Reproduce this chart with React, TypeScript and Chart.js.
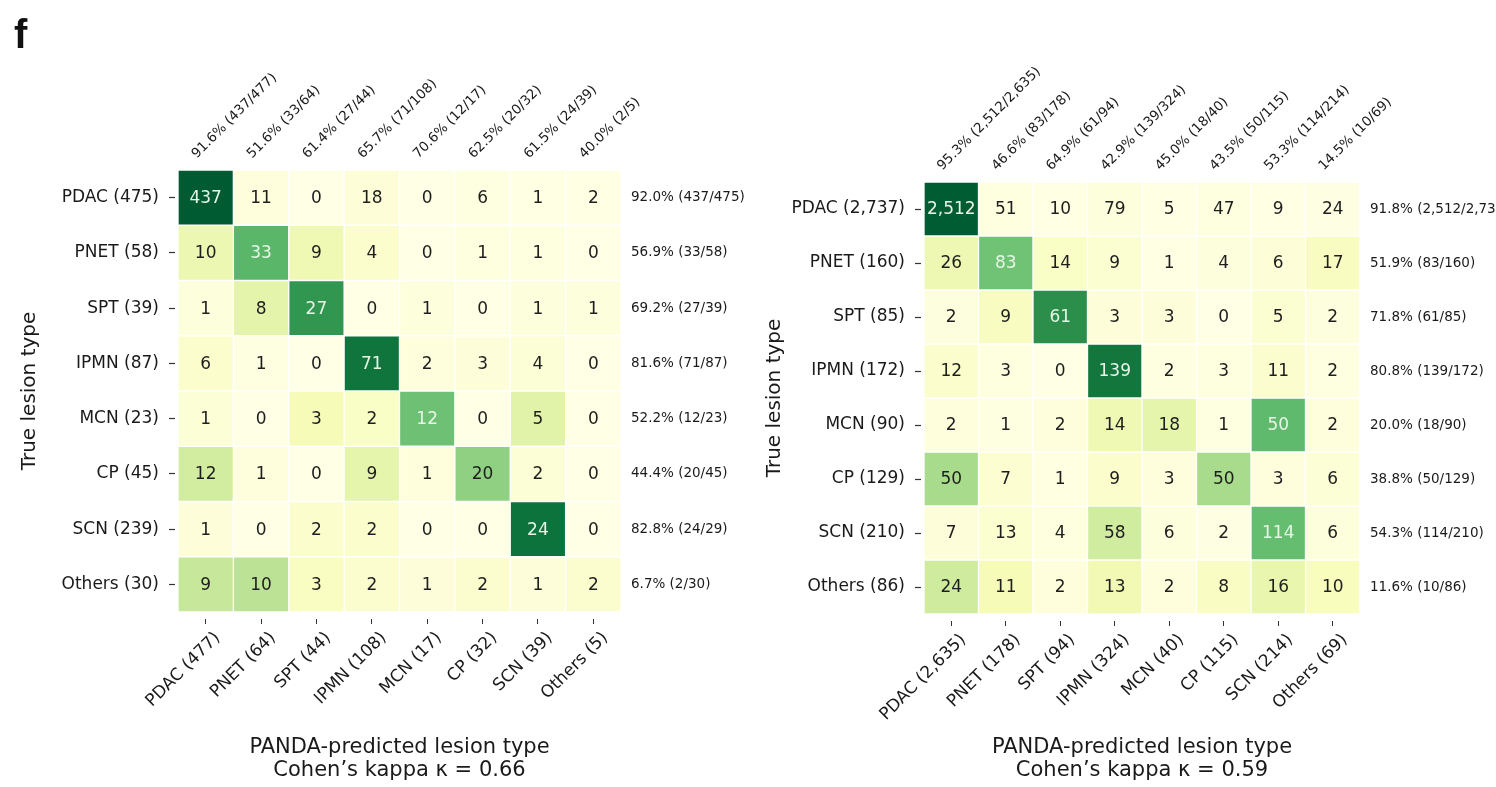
import { useEffect, useRef } from "react";
import { Chart, registerables } from "chart.js";

Chart.register(...registerables);

const FONT = "'DejaVu Sans', Verdana, sans-serif";

// ---- Panel A (left) ----
const leftTrueTypes = ["PDAC (475)", "PNET (58)", "SPT (39)", "IPMN (87)", "MCN (23)", "CP (45)", "SCN (239)", "Others (30)"];
const leftPredTypes = ["PDAC (477)", "PNET (64)", "SPT (44)", "IPMN (108)", "MCN (17)", "CP (32)", "SCN (39)", "Others (5)"];
const leftCounts = [
  [437, 11, 0, 18, 0, 6, 1, 2],
  [10, 33, 9, 4, 0, 1, 1, 0],
  [1, 8, 27, 0, 1, 0, 1, 1],
  [6, 1, 0, 71, 2, 3, 4, 0],
  [1, 0, 3, 2, 12, 0, 5, 0],
  [12, 1, 0, 9, 1, 20, 2, 0],
  [1, 0, 2, 2, 0, 0, 24, 0],
  [9, 10, 3, 2, 1, 2, 1, 2],
];
const leftRecall = ["92.0% (437/475)", "56.9% (33/58)", "69.2% (27/39)", "81.6% (71/87)", "52.2% (12/23)", "44.4% (20/45)", "82.8% (24/29)", "6.7% (2/30)"];
const leftPrecision = ["91.6% (437/477)", "51.6% (33/64)", "61.4% (27/44)", "65.7% (71/108)", "70.6% (12/17)", "62.5% (20/32)", "61.5% (24/39)", "40.0% (2/5)"];
const leftKappa = "0.66";

// ---- Panel B (right) ----
const rightTrueTypes = ["PDAC (2,737)", "PNET (160)", "SPT (85)", "IPMN (172)", "MCN (90)", "CP (129)", "SCN (210)", "Others (86)"];
const rightPredTypes = ["PDAC (2,635)", "PNET (178)", "SPT (94)", "IPMN (324)", "MCN (40)", "CP (115)", "SCN (214)", "Others (69)"];
const rightCounts = [
  [2512, 51, 10, 79, 5, 47, 9, 24],
  [26, 83, 14, 9, 1, 4, 6, 17],
  [2, 9, 61, 3, 3, 0, 5, 2],
  [12, 3, 0, 139, 2, 3, 11, 2],
  [2, 1, 2, 14, 18, 1, 50, 2],
  [50, 7, 1, 9, 3, 50, 3, 6],
  [7, 13, 4, 58, 6, 2, 114, 6],
  [24, 11, 2, 13, 2, 8, 16, 10],
];
const rightRecall = ["91.8% (2,512/2,737)", "51.9% (83/160)", "71.8% (61/85)", "80.8% (139/172)", "20.0% (18/90)", "38.8% (50/129)", "54.3% (114/210)", "11.6% (10/86)"];
const rightPrecision = ["95.3% (2,512/2,635)", "46.6% (83/178)", "64.9% (61/94)", "42.9% (139/324)", "45.0% (18/40)", "43.5% (50/115)", "53.3% (114/214)", "14.5% (10/69)"];
const rightKappa = "0.59";

// YlGn colour ramp used for row-normalised cell shading
const YLGN = ["#ffffe5", "#f7fcb9", "#d9f0a3", "#addd8e", "#78c679", "#41ab5d", "#238443", "#006837", "#004529"];

function hexToRgb(h: string) {
  const n = parseInt(h.slice(1), 16);
  return [(n >> 16) & 255, (n >> 8) & 255, n & 255];
}

function ylgn(t: number) {
  const c = Math.max(0, Math.min(1, t));
  const pos = c * (YLGN.length - 1);
  const i = Math.min(Math.floor(pos), YLGN.length - 2);
  const f = pos - i;
  const a = hexToRgb(YLGN[i]);
  const b = hexToRgb(YLGN[i + 1]);
  const m = a.map((v, k) => Math.round(v + (b[k] - v) * f));
  return `rgb(${m[0]}, ${m[1]}, ${m[2]})`;
}

type Frame = { left: number; right: number; top: number; bottom: number; titlePad: number };

type MatrixProps = {
  x: number;
  trueTypes: string[];
  predTypes: string[];
  counts: number[][];
  recall: string[];
  precision: string[];
  kappa: string;
  frame: Frame;
};

const W = 748;
const H = 787;

function ConfusionMatrix({ x, trueTypes, predTypes, counts, recall, precision, kappa, frame }: MatrixProps) {
  const ref = useRef<HTMLCanvasElement | null>(null);

  useEffect(() => {
    if (!ref.current) return;
    const n = trueTypes.length;
    const rowTotals = counts.map((r) => r.reduce((a, b) => a + b, 0));

    const datasets = counts.map((row, i) => ({
      label: trueTypes[i],
      data: row.map(() => [i, i + 1]),
      backgroundColor: row.map((v) => ylgn(v / rowTotals[i])),
      borderColor: "#ffffff",
      borderWidth: 1,
      borderSkipped: false,
      grouped: false,
      barPercentage: 1,
      categoryPercentage: 1,
    }));

    const cellText = {
      id: "cellText",
      afterDatasetsDraw(chart: any) {
        const ctx = chart.ctx;
        ctx.save();
        ctx.font = `17px ${FONT}`;
        ctx.textAlign = "center";
        ctx.textBaseline = "middle";
        counts.forEach((row, i) => {
          const meta = chart.getDatasetMeta(i);
          meta.data.forEach((bar: any, j: number) => {
            const p = bar.getProps(["x", "y", "base"], true);
            ctx.fillStyle = row[j] / rowTotals[i] > 0.5 ? "#e6f5e6" : "#1e1e1e";
            ctx.fillText(row[j].toLocaleString("en-US"), p.x, (p.y + p.base) / 2 + 1);
          });
        });
        ctx.restore();
      },
    };

    const rowTicks = (axis: any) => {
      axis.ticks = trueTypes.map((_, i) => ({ value: i + 0.5 }));
    };

    const chart = new Chart(ref.current, {
      type: "bar",
      data: { labels: predTypes, datasets: datasets as any },
      options: {
        responsive: false,
        animation: false,
        layout: { padding: 0 },
        plugins: { legend: { display: false }, tooltip: { enabled: false } },
        scales: {
          x: {
            type: "category",
            position: "bottom",
            offset: true,
            border: { display: false },
            grid: {
              display: true,
              drawOnChartArea: false,
              drawTicks: true,
              tickLength: 12,
              tickWidth: 1,
              tickColor: "#333333",
              tickBorderDash: [0, 7, 5, 100],
              offset: false,
            },
            ticks: {
              autoSkip: false,
              minRotation: 45,
              maxRotation: 45,
              labelOffset: 12,
              padding: 4,
              color: "#1a1a1a",
              font: { family: FONT, size: 17 },
            },
            title: {
              display: true,
              text: ["PANDA-predicted lesion type", `Cohen\u2019s kappa \u03ba = ${kappa}`],
              color: "#1a1a1a",
              font: { family: FONT, size: 21, lineHeight: 1.1 },
              padding: { top: 0, bottom: 5 },
            },
            afterFit: (s: any) => {
              s.height = frame.bottom;
            },
          },
          xTop: {
            type: "category",
            position: "top",
            labels: precision,
            offset: true,
            border: { display: false },
            grid: { display: false, drawTicks: false },
            ticks: {
              autoSkip: false,
              minRotation: 45,
              maxRotation: 45,
              padding: 8,
              color: "#1a1a1a",
              font: { family: FONT, size: 13.5 },
            },
            afterFit: (s: any) => {
              s.height = frame.top;
            },
          },
          y: {
            type: "linear",
            position: "left",
            min: 0,
            max: n,
            reverse: true,
            afterBuildTicks: rowTicks,
            border: { display: false },
            grid: {
              display: true,
              drawOnChartArea: false,
              drawTicks: true,
              tickLength: 9,
              tickWidth: 1.2,
              tickColor: "#333333",
              tickBorderDash: [6, 100],
            },
            ticks: {
              autoSkip: false,
              padding: 10,
              color: "#1a1a1a",
              font: { family: FONT, size: 17 },
              callback: (_v: any, i: number) => trueTypes[i],
            },
            title: {
              display: true,
              text: "True lesion type",
              color: "#1a1a1a",
              font: { family: FONT, size: 20, lineHeight: 1.2 },
              padding: { top: frame.titlePad, bottom: 0 },
            },
            afterFit: (s: any) => {
              s.width = frame.left;
            },
          },
          yRight: {
            type: "linear",
            position: "right",
            min: 0,
            max: n,
            reverse: true,
            afterBuildTicks: rowTicks,
            border: { display: false },
            grid: { display: false, drawTicks: false },
            ticks: {
              autoSkip: false,
              padding: 10,
              color: "#1a1a1a",
              font: { family: FONT, size: 13.5 },
              callback: (_v: any, i: number) => recall[i],
            },
            afterFit: (s: any) => {
              s.width = frame.right;
            },
          },
        },
      } as any,
      plugins: [cellText],
    });

    return () => chart.destroy();
  }, [trueTypes, predTypes, counts, recall, precision, kappa, frame]);

  return (
    <canvas
      ref={ref}
      width={W}
      height={H}
      style={{ position: "absolute", left: x, top: 0, width: W, height: H }}
    />
  );
}

const leftFrame: Frame = { left: 178, right: W - 621, top: 170, bottom: H - 612, titlePad: 18 };
const rightFrame: Frame = { left: 924 - W, right: W * 2 - 1360, top: 182, bottom: H - 614, titlePad: 15 };

export default function App() {
  return (
    <div
      style={{
        position: "absolute",
        left: 0,
        top: 0,
        width: 1496,
        height: 787,
        background: "#ffffff",
        overflow: "hidden",
      }}
    >
      <ConfusionMatrix
        x={0}
        trueTypes={leftTrueTypes}
        predTypes={leftPredTypes}
        counts={leftCounts}
        recall={leftRecall}
        precision={leftPrecision}
        kappa={leftKappa}
        frame={leftFrame}
      />
      <ConfusionMatrix
        x={W}
        trueTypes={rightTrueTypes}
        predTypes={rightPredTypes}
        counts={rightCounts}
        recall={rightRecall}
        precision={rightPrecision}
        kappa={rightKappa}
        frame={rightFrame}
      />
      <div
        style={{
          position: "absolute",
          left: 14,
          top: 14,
          fontFamily: "'Liberation Sans', Arial, sans-serif",
          fontWeight: 700,
          fontSize: 40,
          lineHeight: "40px",
          color: "#111",
        }}
      >
        f
      </div>
    </div>
  );
}
